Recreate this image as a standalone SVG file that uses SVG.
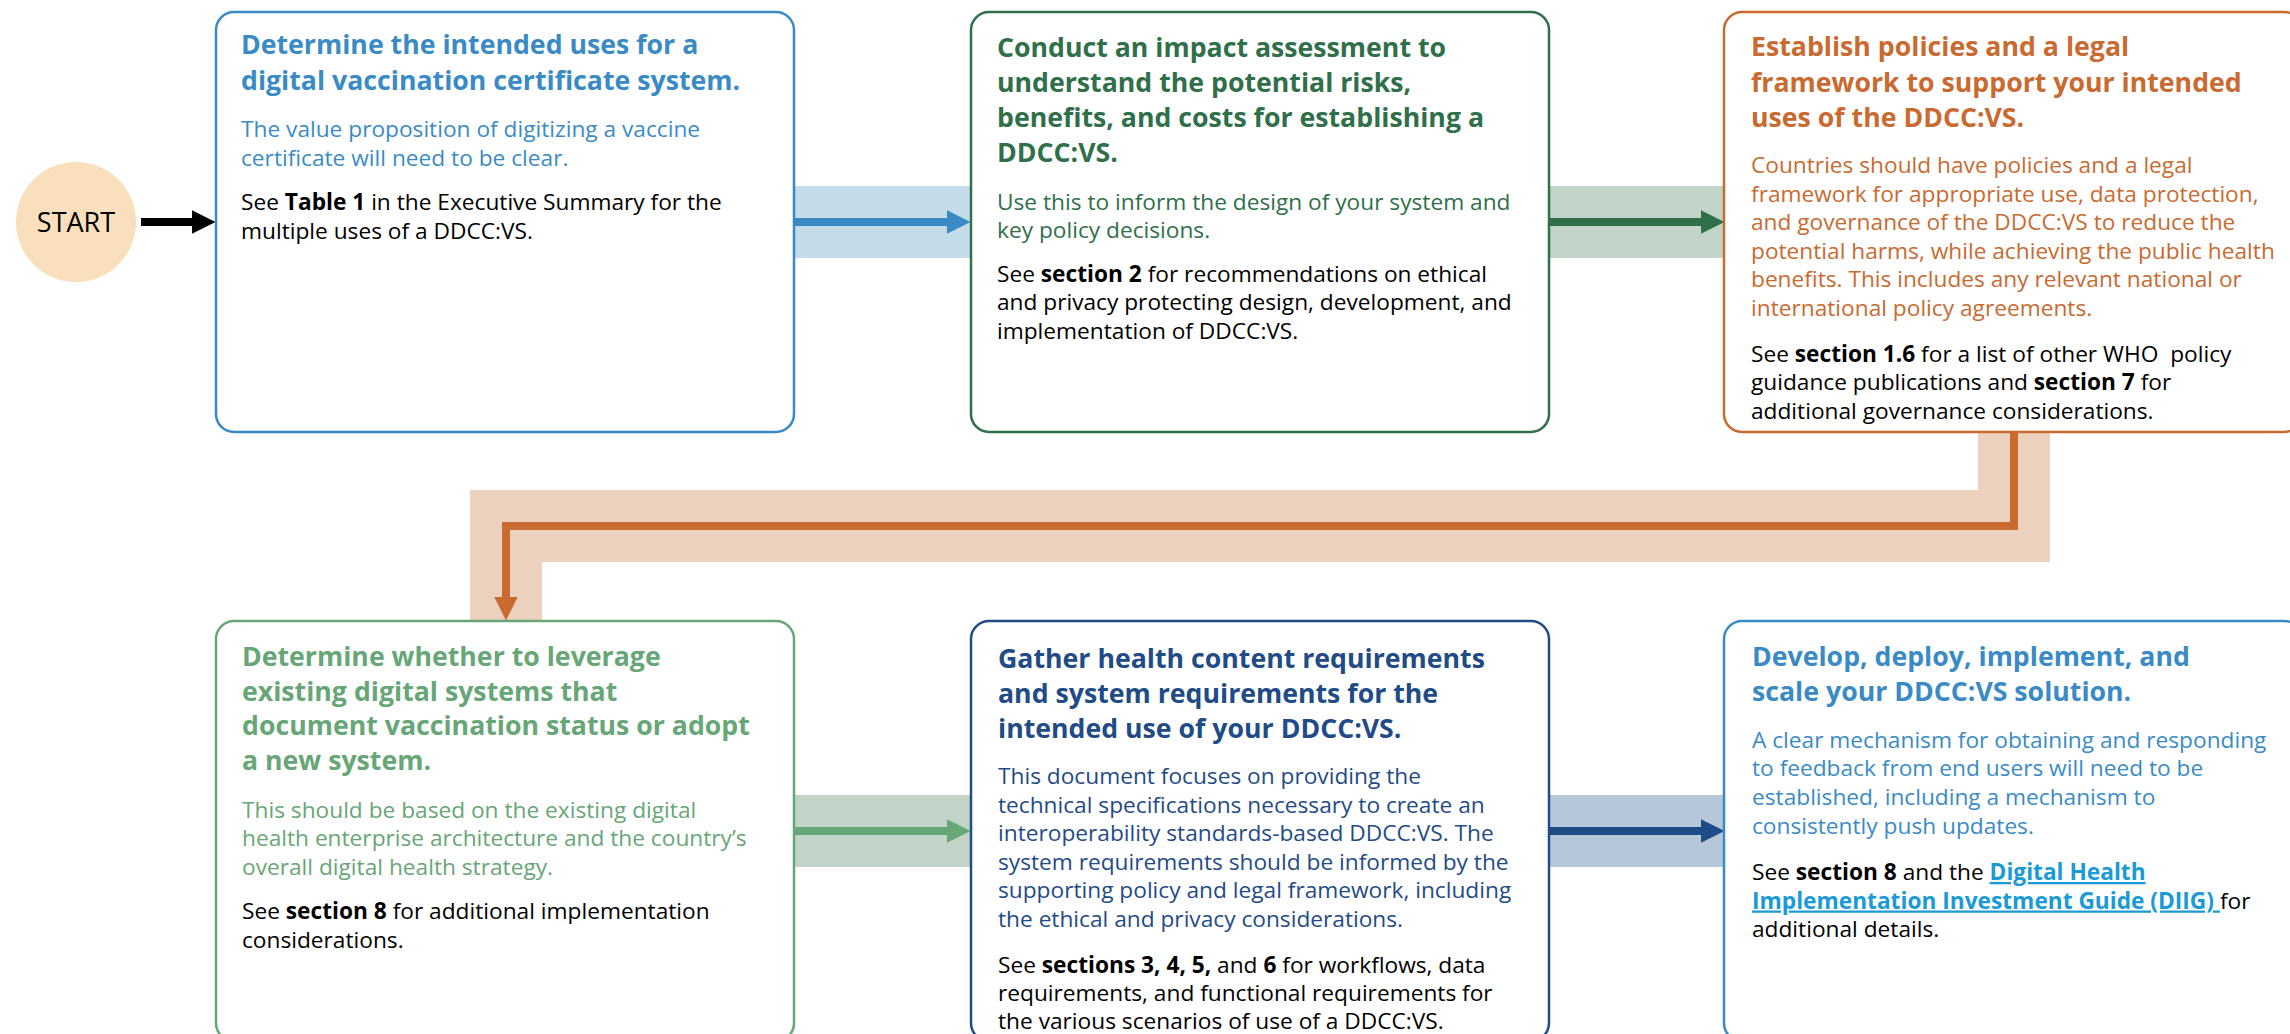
<svg xmlns="http://www.w3.org/2000/svg" width="2290" height="1034" viewBox="0 0 2290 1034">
<style>
text{font-family:"Open Sans","Noto Sans","Liberation Sans",sans-serif}
.ttl{font-size:26.7px;font-weight:700}
.txt{font-size:22.7px}
.blk{fill:#000}
.bd{font-weight:700}
.box{fill:#fff;stroke-width:2.5}
.c1{fill:#3a8bc5}.s1{stroke:#3a8bc5}
.c2{fill:#2f6f49}.s2{stroke:#2f6f49}
.c3{fill:#c96a30}.s3{stroke:#c96a30}
.c4{fill:#67a676}.s4{stroke:#67a676}
.c5{fill:#1f4b87}.s5{stroke:#1f4b87}
.line{fill:none;stroke-width:8}
.link{fill:#1a9ad6;font-weight:700;text-decoration:underline}
</style>
<defs>
<marker id="ah-k" markerUnits="userSpaceOnUse" viewBox="0 0 24 24" markerWidth="24" markerHeight="24" refX="0.5" refY="12" orient="auto"><path d="M0,0 L24,12 L0,24 z" fill="#000"/></marker>
<marker id="ah-1" markerUnits="userSpaceOnUse" viewBox="0 0 24 24" markerWidth="24" markerHeight="24" refX="0.5" refY="12" orient="auto"><path d="M0,0 L24,12 L0,24 z" fill="#3a8bc5"/></marker>
<marker id="ah-2" markerUnits="userSpaceOnUse" viewBox="0 0 24 24" markerWidth="24" markerHeight="24" refX="0.5" refY="12" orient="auto"><path d="M0,0 L24,12 L0,24 z" fill="#2f6f49"/></marker>
<marker id="ah-3" markerUnits="userSpaceOnUse" viewBox="0 0 24 24" markerWidth="24" markerHeight="24" refX="0.5" refY="12" orient="auto"><path d="M0,0 L24,12 L0,24 z" fill="#c96a30"/></marker>
<marker id="ah-4" markerUnits="userSpaceOnUse" viewBox="0 0 24 24" markerWidth="24" markerHeight="24" refX="0.5" refY="12" orient="auto"><path d="M0,0 L24,12 L0,24 z" fill="#67a676"/></marker>
<marker id="ah-5" markerUnits="userSpaceOnUse" viewBox="0 0 24 24" markerWidth="24" markerHeight="24" refX="0.5" refY="12" orient="auto"><path d="M0,0 L24,12 L0,24 z" fill="#1f4b87"/></marker>
</defs>
<rect width="2290" height="1034" fill="#fff"/>
<g id="connectors">
<rect x="794" y="186" width="177" height="72" fill="#c4dcea"/>
<rect x="1549" y="186" width="175" height="72" fill="#c1d4c7"/>
<path d="M2014,432 V526 H506 V621" fill="none" stroke="#edd1bf" stroke-width="72" stroke-linejoin="miter"/>
<rect x="794" y="795" width="177" height="72" fill="#c1d4c7"/>
<rect x="1549" y="795" width="175" height="72" fill="#b7c7da"/>
<path class="line" d="M141,222 H192" stroke="#000" marker-end="url(#ah-k)"/>
<path class="line s1" d="M794,222 H947" marker-end="url(#ah-1)"/>
<path class="line s2" d="M1549,222 H1701" marker-end="url(#ah-2)"/>
<path class="line s3" d="M2014,432 V526 H506 V597" stroke-linejoin="miter" marker-end="url(#ah-3)"/>
<path class="line s4" d="M794,831 H947" marker-end="url(#ah-4)"/>
<path class="line s5" d="M1549,831 H1701" marker-end="url(#ah-5)"/>
</g>
<g id="start">
<circle cx="76" cy="222" r="60" fill="#f9dfbb"/>
<text x="76" y="232" text-anchor="middle" font-size="27" fill="#000">START</text>
</g>
<g id="step1">
<rect class="box s1" x="216" y="12" width="578" height="420" rx="18"/>
<text class="ttl c1" x="241"><tspan x="241" y="54">Determine the intended uses for a</tspan><tspan x="241" y="89.5">digital vaccination certificate system.</tspan></text>
<text class="txt c1"><tspan x="241" y="137">The value proposition of digitizing a vaccine</tspan><tspan x="241" y="165.5">certificate will need to be clear.</tspan></text>
<text class="txt blk"><tspan x="241" y="210">See <tspan class="bd">Table 1</tspan> in the Executive Summary for the</tspan><tspan x="241" y="238.5">multiple uses of a DDCC:VS.</tspan></text>
</g>
<g id="step2">
<rect class="box s2" x="971" y="12" width="578" height="420" rx="18"/>
<text class="ttl c2"><tspan x="997" y="56.5">Conduct an impact assessment to</tspan><tspan x="997" y="91.5">understand the potential risks,</tspan><tspan x="997" y="127">benefits, and costs for establishing a</tspan><tspan x="997" y="162">DDCC:VS.</tspan></text>
<text class="txt c2"><tspan x="997" y="209.5">Use this to inform the design of your system and</tspan><tspan x="997" y="237.5">key policy decisions.</tspan></text>
<text class="txt blk"><tspan x="997" y="281.5">See <tspan class="bd">section 2</tspan> for recommendations on ethical</tspan><tspan x="997" y="310">and privacy protecting design, development, and</tspan><tspan x="997" y="338.5">implementation of DDCC:VS.</tspan></text>
</g>
<g id="step3">
<rect class="box s3" x="1724" y="12" width="578" height="420" rx="18"/>
<text class="ttl c3"><tspan x="1751" y="55.5">Establish policies and a legal</tspan><tspan x="1751" y="91.5">framework to support your intended</tspan><tspan x="1751" y="126.5">uses of the DDCC:VS.</tspan></text>
<text class="txt c3"><tspan x="1751" y="173">Countries should have policies and a legal</tspan><tspan x="1751" y="201.5">framework for appropriate use, data protection,</tspan><tspan x="1751" y="230">and governance of the DDCC:VS to reduce the</tspan><tspan x="1751" y="258.5">potential harms, while achieving the public health</tspan><tspan x="1751" y="287">benefits. This includes any relevant national or</tspan><tspan x="1751" y="315.5">international policy agreements.</tspan></text>
<text class="txt blk" xml:space="preserve"><tspan x="1751" y="361.5">See <tspan class="bd">section 1.6</tspan> for a list of other WHO  policy</tspan><tspan x="1751" y="390">guidance publications and <tspan class="bd">section 7</tspan> for</tspan><tspan x="1751" y="418.5">additional governance considerations.</tspan></text>
</g>
<g id="step4">
<rect class="box s4" x="216" y="621" width="578" height="420" rx="18"/>
<text class="ttl c4"><tspan x="242" y="665.5">Determine whether to leverage</tspan><tspan x="242" y="700.5">existing digital systems that</tspan><tspan x="242" y="735">document vaccination status or adopt</tspan><tspan x="242" y="769.5">a new system.</tspan></text>
<text class="txt c4"><tspan x="242" y="817.5">This should be based on the existing digital</tspan><tspan x="242" y="846">health enterprise architecture and the country’s</tspan><tspan x="242" y="874.5">overall digital health strategy.</tspan></text>
<text class="txt blk"><tspan x="242" y="919">See <tspan class="bd">section 8</tspan> for additional implementation</tspan><tspan x="242" y="947.5">considerations.</tspan></text>
</g>
<g id="step5">
<rect class="box s5" x="971" y="621" width="578" height="420" rx="18"/>
<text class="ttl c5"><tspan x="998" y="667.5">Gather health content requirements</tspan><tspan x="998" y="703">and system requirements for the</tspan><tspan x="998" y="737.5">intended use of your DDCC:VS.</tspan></text>
<text class="txt c5"><tspan x="998" y="784">This document focuses on providing the</tspan><tspan x="998" y="812.5">technical specifications necessary to create an</tspan><tspan x="998" y="841">interoperability standards-based DDCC:VS. The</tspan><tspan x="998" y="869.5">system requirements should be informed by the</tspan><tspan x="998" y="898">supporting policy and legal framework, including</tspan><tspan x="998" y="926.5">the ethical and privacy considerations.</tspan></text>
<text class="txt blk"><tspan x="998" y="972.5">See <tspan class="bd">sections 3, 4, 5,</tspan> and <tspan class="bd">6</tspan> for workflows, data</tspan><tspan x="998" y="1000.5">requirements, and functional requirements for</tspan><tspan x="998" y="1028.5">the various scenarios of use of a DDCC:VS.</tspan></text>
</g>
<g id="step6">
<rect class="box s1" x="1724" y="621" width="578" height="420" rx="18"/>
<text class="ttl c1"><tspan x="1752" y="666">Develop, deploy, implement, and</tspan><tspan x="1752" y="700.5">scale your DDCC:VS solution.</tspan></text>
<text class="txt c1"><tspan x="1752" y="747.5">A clear mechanism for obtaining and responding</tspan><tspan x="1752" y="776">to feedback from end users will need to be</tspan><tspan x="1752" y="805">established, including a mechanism to</tspan><tspan x="1752" y="834">consistently push updates.</tspan></text>
<text class="txt blk"><tspan x="1752" y="880">See <tspan class="bd">section 8</tspan> and the <tspan class="link">Digital Health</tspan></tspan><tspan x="1752" y="908.5"><tspan class="link">Implementation Investment Guide (DIIG) </tspan>for</tspan><tspan x="1752" y="937">additional details.</tspan></text>
</g>
</svg>
